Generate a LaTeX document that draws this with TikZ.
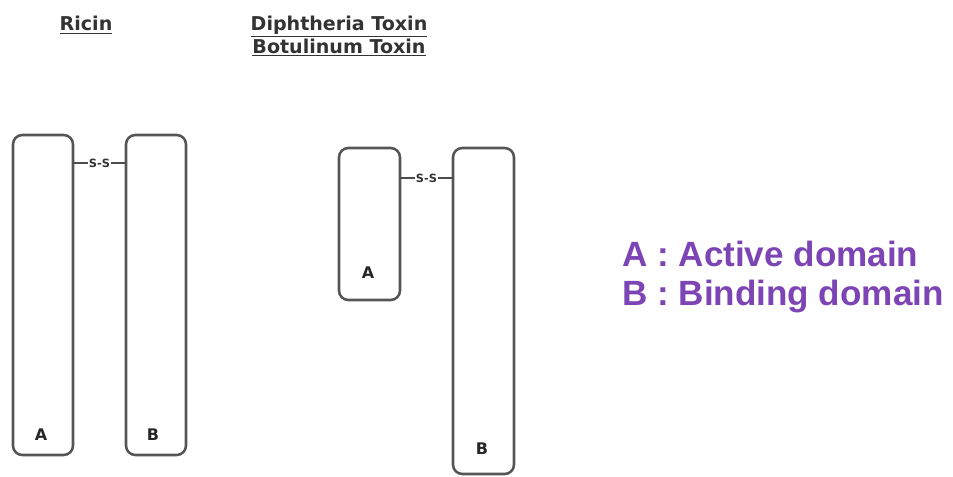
\documentclass[tikz,border=0pt]{standalone}
\usepackage{fontspec}
\setmainfont{DejaVu Sans}
\newfontfamily\legendfont{Liberation Sans}
\definecolor{legendpurple}{RGB}{124,68,180}
\definecolor{boxline}{RGB}{85,85,85}
\begin{document}
\begin{tikzpicture}[x=0.75pt,y=-0.75pt,
  chain/.style={draw=boxline,line width=1.9pt,rounded corners=7pt,fill=white,inner sep=0pt},
  title/.style={font=\fontsize{14.3}{17}\selectfont\bfseries,text=black!80,align=center},
  dom/.style={font=\fontsize{12}{14}\selectfont\bfseries,text=black!85},
  ss/.style={font=\fontsize{8.5}{10}\selectfont\bfseries,fill=white,inner sep=0.5pt,text=black!80},
  bond/.style={draw=black!70,line width=0.8pt},
  legend/.style={font=\legendfont\fontsize{26.3}{29}\selectfont\bfseries,text=legendpurple,align=left,anchor=north west,inner sep=0pt}]
\useasboundingbox (0,0) rectangle (953,476);

% titles
\node[title] (t1) at (86,25) {\underline{Ricin}};
\node[title] (t2) at (339,36) {\underline{Diphtheria Toxin}\\\underline{Botulinum Toxin}};

% Ricin chains
\node[chain,minimum width=60*0.75pt,minimum height=320*0.75pt] (ra) at (43,295) {};
\node[chain,minimum width=60*0.75pt,minimum height=320*0.75pt] (rb) at (156,295) {};
\node[dom] (ral) at (41,435) {A};
\node[dom] (rbl) at (153,435) {B};
\coordinate (ra1) at (73,163);
\coordinate (rb1) at (126,163);
\draw[bond] (ra1) -- (rb1) node[ss,midway] (rss) {S-S};

% Diphtheria / Botulinum chains
\node[chain,minimum width=61*0.75pt,minimum height=152*0.75pt] (da) at (369.5,224) {};
\node[chain,minimum width=61*0.75pt,minimum height=326*0.75pt] (db) at (483.5,311) {};
\node[dom] (dal) at (368,273) {A};
\node[dom] (dbl) at (482,449) {B};
\coordinate (da1) at (400,178);
\coordinate (db1) at (453,178);
\draw[bond] (da1) -- (db1) node[ss,midway] (dss) {S-S};

% legend
\node[legend] (lg) at (622,241) {A : Active domain\\B : Binding domain};
\end{tikzpicture}
\end{document}
